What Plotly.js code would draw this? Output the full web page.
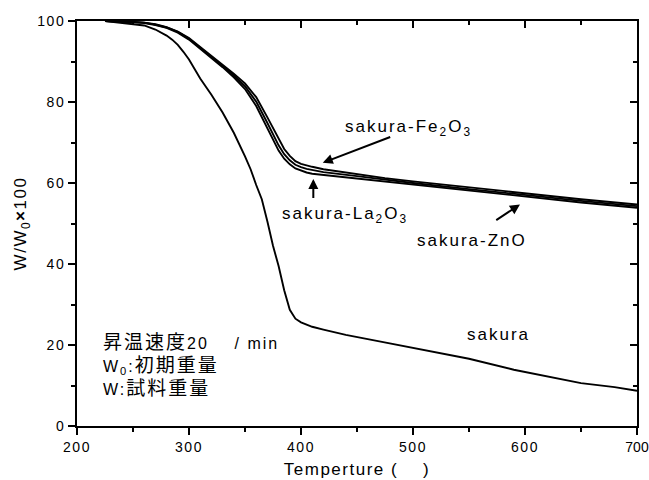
<!DOCTYPE html>
<html>
<head>
<meta charset="utf-8">
<script src="https://cdn.plot.ly/plotly-3.0.1.min.js"></script>
<style>
  html, body { margin: 0; padding: 0; background: #fff; }
  #chart { width: 649px; height: 480px; }
  .xtick text, .ytick text { letter-spacing: 1.5px; }
  .xaxislayer-above .xtick:last-of-type text { letter-spacing: 0px; }
  .annotation-text { letter-spacing: 2px; }
  .g-xtitle text, .g-ytitle text { letter-spacing: 1.5px; }
</style>
</head>
<body>
<div id="chart"></div>
<script>
// Temperature (°C) and weight-retention (%)
const sakuraT = [225, 240, 250, 260, 270, 280, 285, 290, 295, 300, 310, 320, 330, 340, 350, 355, 360, 365, 370, 375, 380, 385, 390, 395, 400, 410, 420, 440, 470, 500, 530, 550, 590, 620, 650, 680, 700];
const sakuraW = [100, 99.6, 99.3, 98.9, 97.9, 96.4, 95.4, 94.1, 92.4, 90.5, 85.8, 81.8, 77.4, 72.4, 66.6, 63.4, 59.5, 56.0, 50.5, 44.5, 39.5, 33.5, 28.7, 26.5, 25.6, 24.5, 23.8, 22.5, 20.9, 19.3, 17.6, 16.6, 13.9, 12.2, 10.6, 9.6, 8.7];

const compT = [225, 250, 260, 270, 280, 290, 300, 310, 320, 330, 340, 350, 360, 370, 375, 380, 385, 390, 395, 400, 405, 410, 420, 450, 475, 500, 550, 600, 650, 700];
const fe2o3W = [100, 99.8, 99.6, 99.2, 98.5, 97.4, 95.8, 93.6, 91.4, 89.3, 87.0, 84.6, 81.2, 76.2, 73.5, 70.8, 68.4, 66.7, 65.4, 64.7, 64.3, 64.0, 63.4, 62.2, 61.2, 60.4, 58.9, 57.4, 56.0, 54.7];
const la2o3W = [100, 99.8, 99.5, 99.0, 98.3, 97.1, 95.4, 93.2, 90.9, 88.6, 86.1, 83.2, 79.0, 73.4, 70.6, 68.0, 66.0, 64.6, 63.6, 63.0, 62.6, 62.3, 62.0, 61.2, 60.4, 59.6, 58.1, 56.6, 55.2, 53.9];
const znoW   = [100, 99.8, 99.6, 99.1, 98.4, 97.3, 95.6, 93.4, 91.2, 89.0, 86.6, 83.9, 80.1, 74.8, 72.0, 69.3, 67.1, 65.6, 64.5, 63.9, 63.5, 63.2, 62.7, 61.7, 60.8, 60.0, 58.5, 57.0, 55.6, 54.3];

const seriesNames = ['sakura', 'sakura-Fe2O3', 'sakura-La2O3', 'sakura-ZnO'];
const xTicks = [200, 300, 400, 500, 600, 700];
const yTicks = [0, 20, 40, 60, 80, 100];

const lineStyle = {color: '#000', width: 1.9};
const traces = [
  {x: sakuraT, y: sakuraW, name: seriesNames[0]},
  {x: compT, y: fe2o3W, name: seriesNames[1]},
  {x: compT, y: la2o3W, name: seriesNames[2]},
  {x: compT, y: znoW, name: seriesNames[3]}
].map(t => Object.assign(t, {type: 'scatter', mode: 'lines', line: lineStyle, hoverinfo: 'skip', showlegend: false}));

// invisible trace to materialise mirror axes
traces.push({x: [200], y: [0], xaxis: 'x2', yaxis: 'y2', mode: 'markers', marker: {opacity: 0}, showlegend: false, hoverinfo: 'skip'});

const FONT = 'Liberation Sans, Arial, Noto Sans CJK JP, sans-serif';
const axisCommon = {
  showgrid: false, zeroline: false, showline: true, linecolor: '#000', linewidth: 2,
  ticks: 'outside', ticklen: 7, tickwidth: 2, tickcolor: '#000', ticklabeloverflow: 'allow',
  tickfont: {family: FONT, size: 14, color: '#000'}
};
const mirrorCommon = {
  showgrid: false, zeroline: false, showline: true, linecolor: '#000', linewidth: 2,
  ticks: 'inside', ticklen: 7, tickwidth: 2, tickcolor: '#000', showticklabels: false
};

const layout = {
  width: 649, height: 480,
  margin: {l: 77, r: 12, t: 21, b: 54},
  paper_bgcolor: '#fff', plot_bgcolor: '#fff',
  font: {family: FONT, color: '#000'},
  xaxis: Object.assign({}, axisCommon, {
    range: [200, 700], tickmode: 'array', tickvals: xTicks, ticktext: xTicks.map(String),
    minor: {dtick: 50, tick0: 200, ticks: 'outside', ticklen: 4, tickwidth: 2, tickcolor: '#000'},
    title: {text: 'Temperture (\u00a0\u00a0\u00a0\u00a0)', font: {family: FONT, size: 17, color: '#000'}, standoff: 9}
  }),
  yaxis: Object.assign({}, axisCommon, {
    range: [0, 100], tickmode: 'array', tickvals: yTicks, ticktext: yTicks.map(String),
    minor: {dtick: 10, tick0: 0, ticks: 'outside', ticklen: 4, tickwidth: 2, tickcolor: '#000'},
    title: {text: 'W/W<sub>0</sub><b>\u00d7</b>100', font: {family: FONT, size: 17, color: '#000'}, standoff: 6}
  }),
  xaxis2: Object.assign({}, mirrorCommon, {
    overlaying: 'x', side: 'top', range: [200, 700], tickmode: 'array', tickvals: xTicks,
    minor: {dtick: 50, tick0: 200, ticks: 'inside', ticklen: 4, tickwidth: 2, tickcolor: '#000'}
  }),
  yaxis2: Object.assign({}, mirrorCommon, {
    overlaying: 'y', side: 'right', range: [0, 100], tickmode: 'array', tickvals: yTicks,
    minor: {dtick: 10, tick0: 0, ticks: 'inside', ticklen: 4, tickwidth: 2, tickcolor: '#000'}
  }),
  annotations: [
    {text: 'sakura-Fe<sub>2</sub>O<sub>3</sub>', x: 437.5, y: 73.5, xref: 'x', yref: 'y', xanchor: 'left', yanchor: 'middle', showarrow: false, font: {size: 17, family: FONT, color: '#000'}},
    {text: '', x: 419.4, y: 65.0, ax: 481, ay: 71.5, xref: 'x', yref: 'y', axref: 'x', ayref: 'y', showarrow: true, arrowhead: 2, arrowsize: 1, arrowwidth: 2, arrowcolor: '#000'},
    {text: 'sakura-La<sub>2</sub>O<sub>3</sub>', x: 381.3, y: 52.0, xref: 'x', yref: 'y', xanchor: 'left', yanchor: 'middle', showarrow: false, font: {size: 17, family: FONT, color: '#000'}},
    {text: '', x: 411, y: 61.0, ax: 411, ay: 55.9, xref: 'x', yref: 'y', axref: 'x', ayref: 'y', showarrow: true, arrowhead: 2, arrowsize: 1, arrowwidth: 2, arrowcolor: '#000'},
    {text: 'sakura-ZnO', x: 501.8, y: 45.8, xref: 'x', yref: 'y', xanchor: 'left', yanchor: 'middle', showarrow: false, font: {size: 17, family: FONT, color: '#000'}},
    {text: '', x: 595.5, y: 54.7, ax: 573, ay: 50.6, xref: 'x', yref: 'y', axref: 'x', ayref: 'y', showarrow: true, arrowhead: 2, arrowsize: 1, arrowwidth: 2, arrowcolor: '#000'},
    {text: 'sakura', x: 546.4, y: 22.5, xref: 'x', yref: 'y', xanchor: 'left', yanchor: 'middle', showarrow: false, font: {size: 17, family: FONT, color: '#000'}},
    {text: '<span style="font-size:19px">昇温速度</span>20\u00a0\u00a0\u00a0\u00a0/ min', x: 221.4, y: 20.5, xref: 'x', yref: 'y', xanchor: 'left', yanchor: 'middle', showarrow: false, font: {size: 16, family: FONT, color: '#000'}},
    {text: 'W<sub>0</sub>:<span style="font-size:19px">初期重量</span>', x: 221.4, y: 14.9, xref: 'x', yref: 'y', xanchor: 'left', yanchor: 'middle', showarrow: false, font: {size: 16, family: FONT, color: '#000'}},
    {text: 'W:<span style="font-size:19px">試料重量</span>', x: 221.4, y: 9.2, xref: 'x', yref: 'y', xanchor: 'left', yanchor: 'middle', showarrow: false, font: {size: 16, family: FONT, color: '#000'}}
  ]
};

Plotly.newPlot('chart', traces, layout, {displayModeBar: false, staticPlot: true});
</script>
</body>
</html>
